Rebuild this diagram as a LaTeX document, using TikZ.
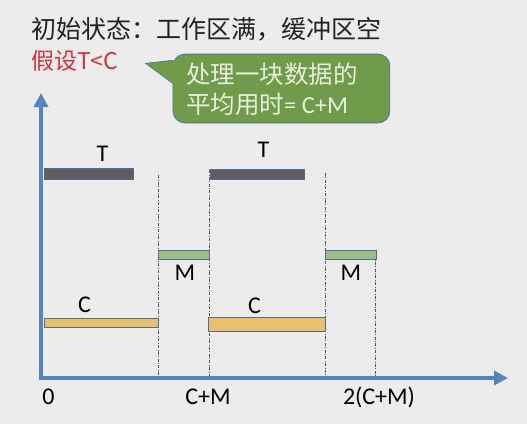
\documentclass[tikz,border=0pt]{standalone}
\usepackage{xcolor}
\usepackage{fontspec}
\usepackage{tikz}
\usetikzlibrary{arrows.meta}
\setmainfont{Carlito}
\newfontfamily\cjk{Noto Sans CJK SC}
\definecolor{bgLight}{HTML}{ECECEC}
\definecolor{axisBlue}{HTML}{5585C0}
\definecolor{edgeBlue}{HTML}{4A6E98}
\definecolor{barGray}{HTML}{5F5B60}
\definecolor{barGreen}{HTML}{9DBE82}
\definecolor{barYellow}{HTML}{E9C16B}
\definecolor{noteGreen}{HTML}{6F9B4A}
\definecolor{noteText}{HTML}{E8F0DE}
\definecolor{redMain}{HTML}{D0333E}
\definecolor{textDark}{HTML}{222222}
\definecolor{guideGray}{HTML}{555555}

\begin{document}
\begin{tikzpicture}[x=1pt,y=-1pt]

        \tikzset{
            timebar/.style={
                draw=edgeBlue,
                line width=0.5pt,
                inner sep=0pt,
                anchor=north west
            },
            axisline/.style={
                draw=axisBlue,
                line width=4.5pt,
                -{Triangle[width=14pt,length=14pt]}
            },
            guide/.style={
                draw=guideGray,
                line width=0.8pt,
                dash pattern=on 3pt off 1.5pt on 0.8pt off 1.5pt
            },
            lbl/.style={
                font=\fontsize{24}{28}\selectfont,
                text=black,
                inner sep=0pt,
                anchor=base
            }
        }

        \fill[bgLight] (0,0) rectangle (527,424);
        \useasboundingbox (0,0) rectangle (527,424);

        % heading
        \node[anchor=west, inner sep=0pt, text=textDark, font=\cjk\fontsize{25}{28}\selectfont] (title) at (31,29) {初始状态：工作区满，缓冲区空};
        \node[anchor=west, inner sep=0pt, text=redMain, font=\cjk\fontsize{23}{26}\selectfont] (assume) at (31,61) {假设T<C};

        % callout
        \node[fill=noteGreen, draw=edgeBlue, line width=0.6pt, rounded corners=12pt, minimum width=217pt, minimum height=69pt, inner sep=0pt] (note) at (281.4,88.5) {};
        \coordinate (tip) at (145.5,63.3);
        \fill[noteGreen] (tip) -- (175,60) -- (175,84.5) -- cycle;
        \draw[edgeBlue, line width=0.6pt] (172.7,60.3) -- (tip) -- (172.7,83.5);
        \node[anchor=west, align=left, inner sep=0pt, text=noteText, font=\fontsize{24.5}{30}\selectfont] (notetext) at (186,89) {{\cjk 处理一块数据的}\\{\cjk 平均用时}= C+M};

        % guides
        \draw[guide] (158.5,175) -- (158.5,378);
        \draw[guide] (209.5,170) -- (209.5,378);
        \draw[guide] (325,172.7) -- (325,378);
        \draw[guide] (375.5,255) -- (375.5,378);

        % bars
        \node[timebar, fill=barGray, minimum width=89pt, minimum height=11pt] (t1) at (43.5,168.3) {};
        \node[timebar, fill=barGray, minimum width=94.6pt, minimum height=9.4pt] (t2) at (209.7,169.3) {};
        \node[timebar, fill=barGreen, minimum width=51.3pt, minimum height=9pt] (m1) at (157.7,250) {};
        \node[timebar, fill=barGreen, minimum width=51pt, minimum height=9pt] (m2) at (324.7,250) {};
        \node[timebar, fill=barYellow, minimum width=114.8pt, minimum height=9pt] (c1) at (43.5,318.3) {};
        \node[timebar, fill=barYellow, minimum width=116.7pt, minimum height=13.4pt] (c2) at (208.3,317.3) {};

        \node[lbl] (t1lbl) at (102.5,161) {T};
        \node[lbl] (t2lbl) at (263.5,157) {T};
        \node[lbl] (m1lbl) at (185,280) {M};
        \node[lbl] (m2lbl) at (351,280) {M};
        \node[lbl] (c1lbl) at (84.5,312) {C};
        \node[lbl] (c2lbl) at (254.5,313) {C};

        % axes
        \coordinate (origin) at (41,378);
        \coordinate (ytip) at (41,93);
        \coordinate (xtip) at (508,378);
        \draw[axisline] (origin) ++(0,2.25) -- (ytip);
        \draw[axisline] (origin) ++(-2.2,0) -- (xtip);

        \node[lbl] (zero) at (48.5,404) {0};
        \node[lbl] (one) at (208,404) {C+M};
        \node[lbl] (two) at (379,404) {2(C+M)};

\end{tikzpicture}
\end{document}
